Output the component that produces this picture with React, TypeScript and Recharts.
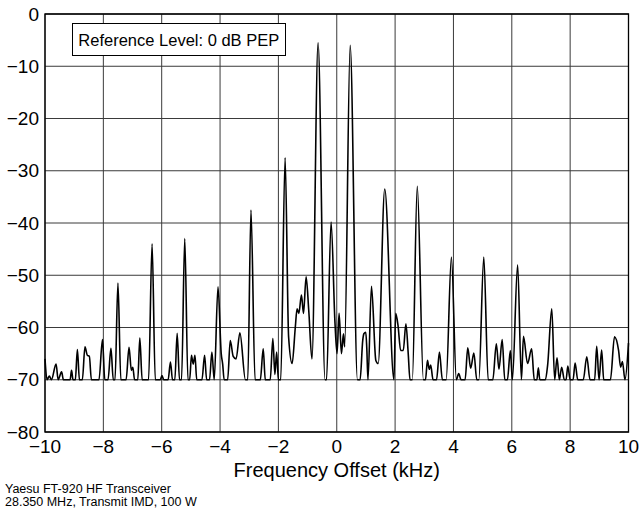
import { LineChart, Line, XAxis, YAxis, CartesianGrid, ReferenceArea } from "recharts";

// spectrum trace (kHz offset, dB rel. PEP)
const freqKHz = [
  -10.0, -9.93, -9.85, -9.78, -9.62, -9.55, -9.43, -9.37, -9.14, -9.09, -9.04,
  -8.96, -8.89, -8.82, -8.72, -8.63, -8.55, -8.48, -8.41, -8.15, -8.03, -7.95,
  -7.84, -7.74, -7.66, -7.6, -7.5, -7.4, -7.22, -7.12, -7.04, -6.99, -6.93,
  -6.82, -6.75, -6.67, -6.45, -6.33, -6.22, -6.05, -5.99, -5.93, -5.78, -5.7,
  -5.63, -5.55, -5.47, -5.39, -5.32, -5.21, -5.1, -5.04, -4.98, -4.92, -4.86,
  -4.8, -4.62, -4.53, -4.46, -4.36, -4.28, -4.2, -4.07, -3.96, -3.91, -3.86,
  -3.74, -3.65, -3.55, -3.45, -3.32, -3.13, -3.05, -2.94, -2.8, -2.62, -2.52,
  -2.45, -2.28, -2.19, -2.12, -2.06, -2.0, -1.92, -1.77, -1.65, -1.53, -1.42,
  -1.36, -1.3, -1.21, -1.14, -1.05, -0.96, -0.85, -0.64, -0.4, -0.35, -0.195,
  -0.06, 0.01, 0.08, 0.16, 0.23, 0.27, 0.46, 0.71, 0.8, 0.89, 0.93, 0.995,
  1.03, 1.07, 1.19, 1.34, 1.42, 1.645, 1.96, 2.02, 2.1, 2.19, 2.28, 2.37, 2.45,
  2.51, 2.59, 2.76, 2.97, 3.04, 3.11, 3.17, 3.22, 3.3, 3.42, 3.52, 3.62, 3.75,
  3.93, 4.1, 4.18, 4.26, 4.4, 4.49, 4.59, 4.7, 4.8, 4.87, 5.04, 5.19, 5.35,
  5.47, 5.56, 5.67, 5.76, 5.85, 5.95, 6.02, 6.2, 6.33, 6.4, 6.54, 6.68, 6.77,
  6.86, 6.91, 6.96, 7.15, 7.23, 7.37, 7.47, 7.55, 7.63, 7.71, 7.8, 7.86, 7.92,
  8.0, 8.1, 8.17, 8.26, 8.45, 8.57, 8.68, 8.84, 8.91, 8.99, 9.08, 9.15, 9.38,
  9.52, 9.66, 9.73, 9.79, 9.88, 10.0,
];

const levelDb = [
  -66, -70, -69.3, -70, -67, -70, -68.5, -70, -70, -68.2, -70,
  -70, -64.2, -70, -70, -63.7, -65.3, -65.5, -70, -70, -62.3, -70,
  -70, -64, -70, -70, -51.5, -70, -70, -63.8, -68.2, -67.6, -70,
  -70, -62, -70, -70, -44, -70, -70, -69.2, -70, -70, -66.6,
  -70, -70, -61.1, -70, -70, -43, -70, -70, -65.3, -67, -65.3,
  -70, -70, -65.3, -70, -70, -64.7, -70, -52.2, -65, -67, -70,
  -70, -62.5, -65.5, -66, -61, -70, -70, -37.5, -70, -70, -64.1,
  -70, -70, -62.1, -69, -64.7, -70, -70, -27.5, -61.8, -66.9, -59.9,
  -56.4, -57.3, -53.8, -57.3, -50.3, -56.7, -66, -5.5, -70, -70, -39.8,
  -59.2, -65, -57.3, -65, -61.2, -63.7, -6, -70, -70, -62.5, -61.2, -60.9,
  -64, -70, -52.1, -66.3, -66.9, -33.5, -70, -57.3, -59.6, -64.4, -64.4, -59.3, -65,
  -70, -70, -33, -70, -70, -66.3, -68, -67.2, -70, -70, -64.7, -70, -70,
  -46.5, -70, -68.8, -70, -70, -63.9, -67.8, -64.9, -70, -70, -46.5, -70, -70,
  -63.1, -68, -62.3, -70, -70, -64.4, -70, -48, -70, -61.7, -66.9, -64.1, -70,
  -70, -67.7, -70, -70, -67.1, -56.4, -70, -65.8, -70, -67.6, -70, -70, -67.4,
  -70, -70, -66.8, -70, -70, -65.6, -70, -70, -63.6, -70, -64.3, -70, -70,
  -61.8, -64.4, -67.6, -66.5, -70, -63,
];

const xTicks = [-10, -8, -6, -4, -2, 0, 2, 4, 6, 8, 10];
const yTicks = [-80, -70, -60, -50, -40, -30, -20, -10, 0];

const FONT = '"Liberation Sans", Arial, Helvetica, sans-serif';

const rows = freqKHz.map((f, i) => ({ f, db: levelDb[i] }));

const fmt = (v: number) => String(v).replace("-", "\u2212");

export default function App() {
  return (
    <div style={{ position: "absolute", left: 0, top: 0, width: 642, height: 523, background: "#fff", fontFamily: FONT }}>
      <LineChart width={642} height={523} data={rows} margin={{ top: 14, right: 13.5, left: 0, bottom: 61 }}>
        <CartesianGrid stroke="#3a3a3a" strokeWidth={1} />
        <XAxis
          dataKey="f"
          type="number"
          domain={[-10, 10]}
          ticks={xTicks}
          tickFormatter={fmt}
          tickLine={false}
          axisLine={false}
          height={30}
          tick={{ fontSize: 19, fill: "#000", fontFamily: FONT }}
        />
        <YAxis
          type="number"
          domain={[-80, 0]}
          ticks={yTicks}
          tickFormatter={fmt}
          tickLine={false}
          axisLine={false}
          tickMargin={0}
          width={45}
          tick={{ fontSize: 19, fill: "#000", fontFamily: FONT }}
        />
        <ReferenceArea x1={-10} x2={10} y1={-80} y2={0} fill="none" stroke="#000" strokeWidth={1.3} />
        <Line
          dataKey="db"
          type="monotone"
          stroke="#000"
          strokeWidth={1.6}
          dot={false}
          isAnimationActive={false}
        />
      </LineChart>

      {/* reference level box */}
      <div
        style={{
          position: "absolute",
          left: 71.5,
          top: 22.5,
          width: 212.5,
          height: 29,
          border: "1px solid #000",
          background: "#fff",
          display: "flex",
          alignItems: "center",
          justifyContent: "center",
          fontSize: 16.5,
          paddingTop: 2,
          boxSizing: "content-box",
        }}
      >
        Reference Level: 0 dB PEP
      </div>

      <div style={{ position: "absolute", left: 45, width: 583.5, top: 460, textAlign: "center", fontSize: 20, lineHeight: "20px" }}>
        Frequency Offset (kHz)
      </div>

      <div style={{ position: "absolute", left: 5, top: 483, fontSize: 12.5, lineHeight: "13px" }}>
        Yaesu FT-920 HF Transceiver
        <br />
        28.350 MHz, Transmit IMD, 100 W
      </div>
    </div>
  );
}
